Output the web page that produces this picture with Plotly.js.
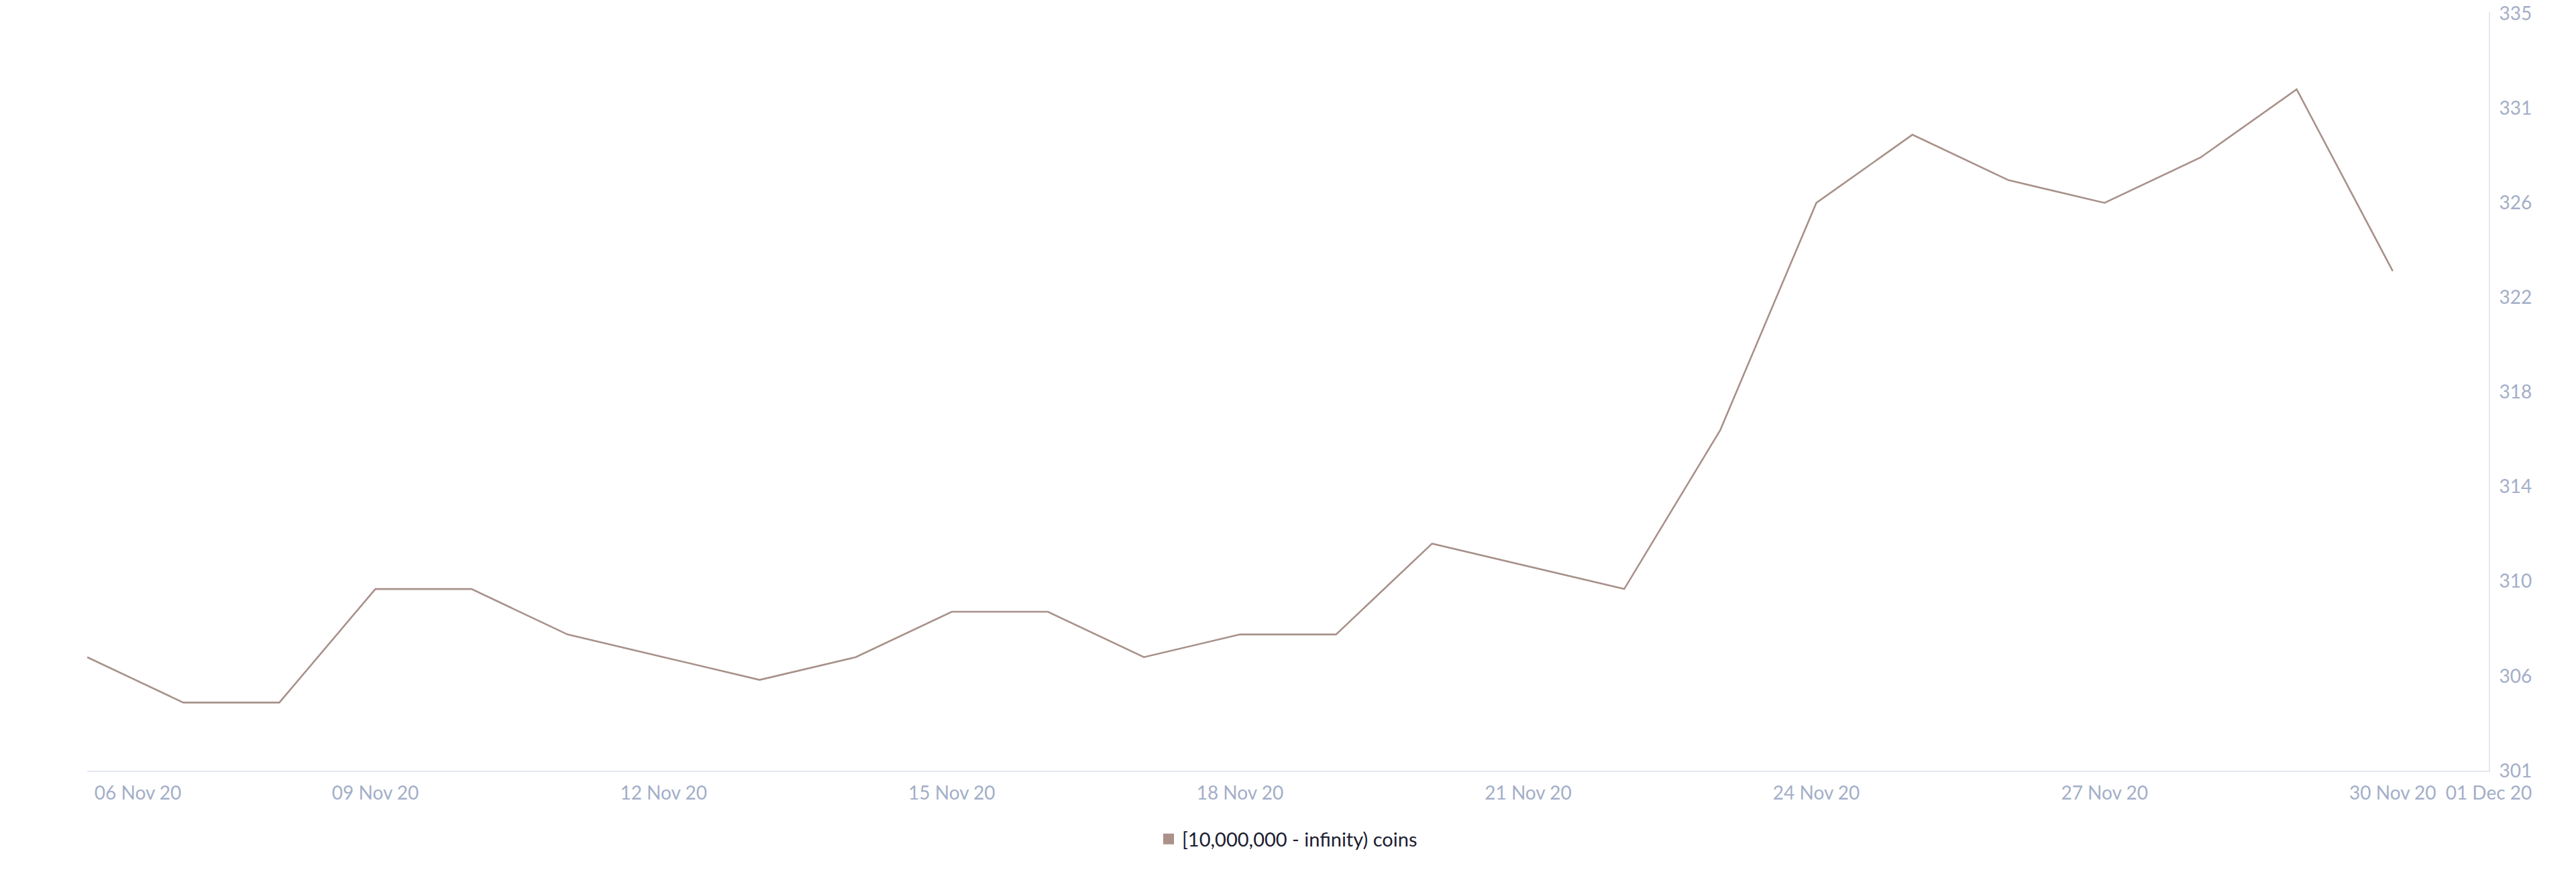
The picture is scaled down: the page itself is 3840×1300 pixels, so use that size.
<!DOCTYPE html>
<html>
<head>
<meta charset="utf-8">
<script src="https://cdn.plot.ly/plotly-3.0.1.min.js"></script>
<style>
  html, body { margin: 0; padding: 0; background: #ffffff; }
  #chart { width: 3840px; height: 1300px; }
</style>
</head>
<body>
<div id="chart"></div>
<script>
// ---- data ----
const dates = [
  '2020-11-06','2020-11-07','2020-11-08','2020-11-09','2020-11-10',
  '2020-11-11','2020-11-12','2020-11-13','2020-11-14','2020-11-15',
  '2020-11-16','2020-11-17','2020-11-18','2020-11-19','2020-11-20',
  '2020-11-21','2020-11-22','2020-11-23','2020-11-24','2020-11-25',
  '2020-11-26','2020-11-27','2020-11-28','2020-11-29','2020-11-30'
];
const holders = [
  306, 304, 304, 309, 309,
  307, 306, 305, 306, 308,
  308, 306, 307, 307, 311,
  310, 309, 316, 326, 329,
  327, 326, 328, 331, 323
];
const seriesName = '[10,000,000 - infinity) coins';
const xTickVals = ['2020-11-06 12:40','2020-11-09','2020-11-12','2020-11-15','2020-11-18',
                   '2020-11-21','2020-11-24','2020-11-27','2020-11-30','2020-12-01'];
const xTickText = ['06 Nov 20','09 Nov 20','12 Nov 20','15 Nov 20','18 Nov 20',
                   '21 Nov 20','24 Nov 20','27 Nov 20','30 Nov 20','01 Dec 20'];
const yMin = 301, yTop = 334.35, yMax = 334.4;
const yTickText = ['301','306','310','314','318','322','326','331','335'];
const yTickVals = yTickText.map((t, i) => yMin + i * (yTop - yMin) / (yTickText.length - 1));

const lineColor = '#a8918a';
const tickColor = '#a3aec8';
const axisLine = '#e4e8f1';
const font = 'Lato, "Open Sans", sans-serif';

const traces = [
  {
    x: dates, y: holders, type: 'scatter', mode: 'lines',
    line: { color: lineColor, width: 2.6 },
    name: seriesName, showlegend: false, hoverinfo: 'x+y'
  },
  {
    x: [null], y: [null], type: 'scatter', mode: 'markers',
    marker: { symbol: 'square', size: 18, color: '#ab9189' },
    name: seriesName, showlegend: true
  }
];

const layout = {
  width: 3840, height: 1300,
  paper_bgcolor: '#ffffff', plot_bgcolor: '#ffffff',
  margin: { l: 130, r: 130, t: 18, b: 151, pad: 0 },
  font: { family: font, size: 28, color: tickColor },
  showlegend: true,
  legend: {
    orientation: 'h', x: 0.5, xanchor: 'center', y: -0.09, yanchor: 'middle',
    font: { family: font, size: 29, color: '#1c2030' },
    itemsizing: 'trace', bgcolor: 'rgba(0,0,0,0)'
  },
  xaxis: {
    type: 'date',
    range: ['2020-11-06', '2020-12-01'],
    tickvals: xTickVals, ticktext: xTickText,
    showgrid: false, zeroline: false,
    showline: true, linecolor: axisLine, linewidth: 2,
    ticks: 'outside', ticklen: 7, tickcolor: 'rgba(0,0,0,0)',
    tickfont: { family: font, size: 28, color: tickColor }
  },
  yaxis: {
    side: 'right',
    range: [yMin, yMax],
    tickvals: yTickVals, ticktext: yTickText,
    showgrid: false, zeroline: false,
    showline: true, linecolor: axisLine, linewidth: 2,
    ticks: 'outside', ticklen: 8, tickcolor: 'rgba(0,0,0,0)',
    tickfont: { family: font, size: 28, color: tickColor }
  }
};

Plotly.newPlot('chart', traces, layout, { displayModeBar: false, staticPlot: true });
</script>
</body>
</html>
